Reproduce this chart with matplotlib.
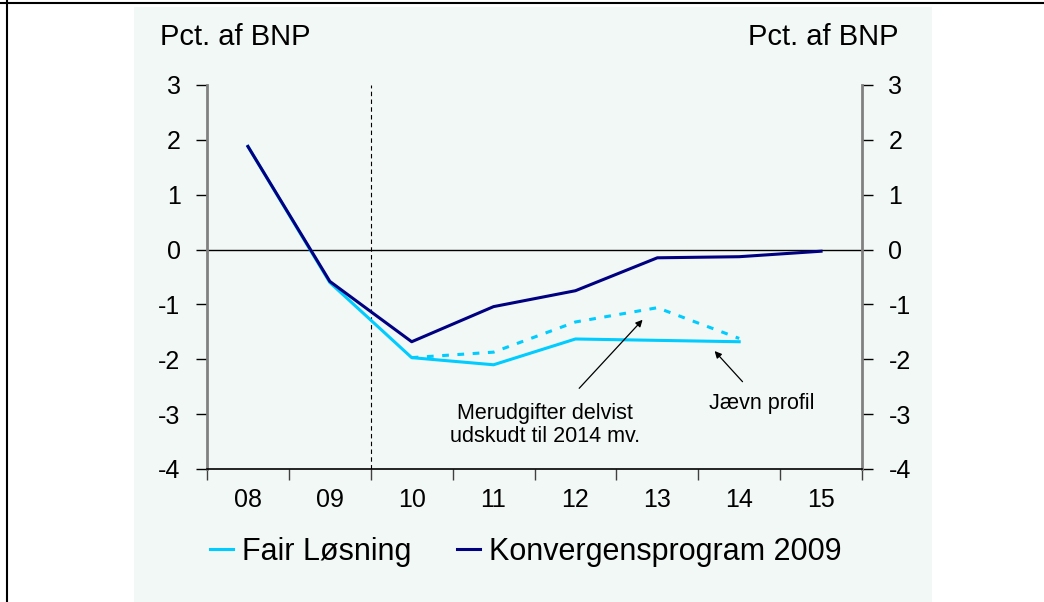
import matplotlib
matplotlib.use("Agg")
from matplotlib import pyplot as plt
from matplotlib.patches import Rectangle
from matplotlib.lines import Line2D

plt.rcParams['font.family'] = ['Liberation Sans', 'DejaVu Sans']
plt.rcParams['axes.unicode_minus'] = False

years = ['08', '09', '10', '11', '12', '13', '14', '15']
konvergens = [1.88, -0.58, -1.68, -1.04, -0.75, -0.15, -0.13, -0.03]
fair = [1.88, -0.60, -1.97, -2.10, -1.63, -1.655, -1.68]
fair_udskudt_years = ['10', '11', '12', '13', '14']
fair_udskudt = [-1.97, -1.87, -1.32, -1.06, -1.62]

navy = '#000080'
sky = '#00CCFF'
panel = '#F1F8F5'

fig = plt.figure(figsize=(10.44, 6.02), dpi=100)

# baggrundspanel og ramme
fig.patches.append(Rectangle((134 / 1044, 0), (932 - 134) / 1044, 1 - 7 / 602,
                             transform=fig.transFigure, facecolor=panel, edgecolor='none', zorder=-5))
fig.add_artist(Line2D([7 / 1044, 7 / 1044], [0, 1], transform=fig.transFigure, color='black', lw=1.5))
fig.add_artist(Line2D([0, 1], [1 - 3 / 602, 1 - 3 / 602], transform=fig.transFigure, color='black', lw=1.5))

ax = fig.add_axes([207 / 1044, 1 - 469 / 602, (862 - 207) / 1044, (469 - 85) / 602])
ax.set_facecolor('none')
ax.set_zorder(2)

x = list(range(len(years)))
ax.plot(x[:len(fair)], fair, color=sky, lw=2.2, label='Fair Løsning')
ax.plot(x, konvergens, color=navy, lw=2.2, label='Konvergensprogram 2009')
xu = [years.index(y) for y in fair_udskudt_years]
ax.plot(xu, fair_udskudt, color=sky, lw=2.2, ls=(0, (2.2, 2.8)))

ax.axhline(0, color='black', lw=1, zorder=1)
ax.axvline(1.5, color='black', lw=0.8, ls=(0, (4, 3)), zorder=1)

ax.set_xlim(-0.5, len(years) - 0.5)
ax.set_ylim(-4, 3)
ax.set_yticks(range(-4, 4))
ax.set_xticks(x)
ax.set_xticklabels(years)
ax.set_xticks([i - 0.5 for i in range(len(years) + 1)], minor=True)
ax.tick_params(axis='x', which='major', length=0, pad=14, labelsize=18)
ax.tick_params(axis='x', which='minor', length=8, width=1, color='#404040', direction='out')
ax.tick_params(axis='y', length=8, width=1, direction='out', labelsize=18, pad=11,
               right=True, labelright=True)

for side in ['left', 'right']:
    ax.spines[side].set_color('#808080')
    ax.spines[side].set_linewidth(2)
ax.spines['top'].set_visible(False)
ax.spines['bottom'].set_color('black')
ax.spines['bottom'].set_linewidth(1.2)

fig.text(160 / 1044, 1 - 37 / 602, 'Pct. af BNP', fontsize=21, ha='left', va='center')
fig.text(898 / 1044, 1 - 37 / 602, 'Pct. af BNP', fontsize=21, ha='right', va='center')

ax.annotate('Merudgifter delvist\nudskudt til 2014 mv.', xy=(4.82, -1.28), xytext=(3.63, -3.2),
            fontsize=15.5, ha='center', va='center', linespacing=1.1,
            arrowprops=dict(arrowstyle='-|>', color='black', lw=0.9, mutation_scale=10,
                            shrinkA=12, shrinkB=0))
ax.annotate('Jævn profil', xy=(5.70, -1.85), xytext=(6.28, -2.8),
            fontsize=15.5, ha='center', va='center',
            arrowprops=dict(arrowstyle='-|>', color='black', lw=0.9, mutation_scale=10,
                            shrinkA=8, shrinkB=0))

fig.legend(loc='center', bbox_to_anchor=(526 / 1044, 1 - 552 / 602), ncol=2, frameon=False,
           fontsize=22, handlelength=0.75, handletextpad=0.3, columnspacing=1.5)

plt.savefig('out.png', dpi=100)
